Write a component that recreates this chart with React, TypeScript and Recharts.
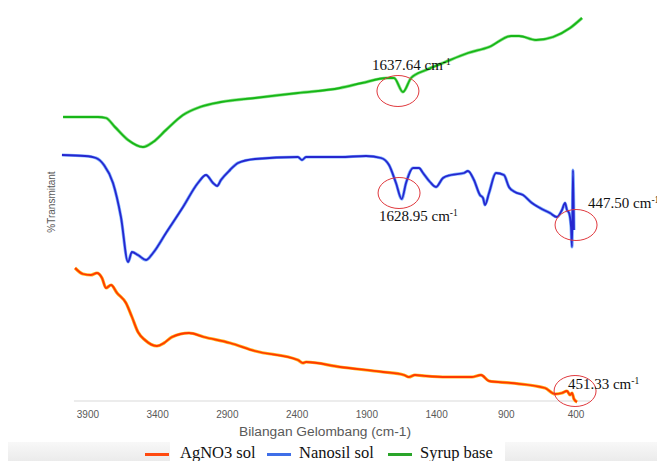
import React from 'react';
import { LineChart, Line, XAxis, YAxis, ReferenceLine, ReferenceDot } from 'recharts';

// Wavenumber (cm-1) and relative %Transmitant (offset, stacked) for each sample
const agno3Wave = [3992, 3935, 3878, 3835, 3799, 3770, 3734, 3691, 3627, 3584, 3541, 3491, 3405, 3354, 3297, 3175, 3068, 2881, 2702, 2394, 2358, 2336, 2092, 1784, 1634, 1598, 1555, 1476, 1325, 1146, 1081, 1024, 866, 623, 551, 501, 465, 443, 429, 415, 393];
const agno3T = [133, 127, 126, 128, 123, 113, 116, 108, 98, 84, 69, 61, 55, 58, 64, 68, 64, 58, 50, 41, 38, 39, 34, 29, 26, 24, 26, 25, 24, 24, 26, 20, 18, 13, 7, 8, 10, 6, 8, 2, -1];

const nanosilWave = [4086, 3921, 3842, 3785, 3720, 3663, 3612, 3584, 3541, 3483, 3433, 3340, 3218, 3111, 3053, 3003, 2974, 2946, 2881, 2824, 2702, 2394, 2365, 2336, 2092, 1906, 1798, 1741, 1691, 1650, 1619, 1569, 1526, 1497, 1447, 1404, 1354, 1297, 1203, 1175, 1132, 1089, 1067, 1053, 1024, 974, 917, 881, 838, 780, 716, 658, 587, 537, 501, 479, 465, 450, 436, 429, 422, 415];
const nanosilT = [246, 245, 243, 236, 218, 184, 139, 149, 146, 141, 148, 168, 194, 218, 226, 218, 215, 221, 231, 238, 242, 244, 241, 244, 244, 245, 243, 236, 218, 202, 218, 233, 233, 228, 219, 214, 223, 226, 228, 230, 221, 206, 203, 196, 208, 228, 226, 214, 209, 206, 198, 193, 188, 184, 191, 198, 191, 188, 174, 154, 231, 171];

const syrupWave = [4078, 3828, 3770, 3706, 3612, 3505, 3433, 3340, 3218, 3096, 2946, 2702, 2394, 2092, 1935, 1755, 1705, 1641, 1583, 1476, 1354, 1175, 1024, 866, 809, 687, 565, 443, 357];
const syrupT = [284, 284, 283, 274, 261, 254, 259, 271, 286, 294, 299, 303, 308, 313, 318, 323, 323, 309, 323, 331, 338, 348, 354, 365, 365, 361, 364, 373, 383];

const xTicks = [3900, 3400, 2900, 2400, 1900, 1400, 900, 400];

// Peak annotations (data coordinates)
const peakNames = ['1637.64', '1628.95', '447.50', '451.33'];
const peakCircleX = [1677, 1669, 400, 407];
const peakCircleY = [310, 208, 176, 10];
const peakTextX = [1863, 1813, 314, 458];
const peakTextY = [331, 180, 193, 12];

const toData = (w: number[], t: number[]) => w.map((x, i) => ({ x, t: t[i] }));
const agno3Data = toData(agno3Wave, agno3T);
const nanosilData = toData(nanosilWave, nanosilT);
const syrupData = toData(syrupWave, syrupT);

const renderTick = (p: any) => (
  <text x={p.x} y={p.y} dy={11.5} textAnchor="middle" fontSize={10}
    fontFamily="'Liberation Sans', Arial, sans-serif" fill="#595959">
    {p.payload.value}
  </text>
);

const renderXLabel = (p: any) => {
  const vb = p.viewBox;
  return (
    <text x={vb.x + vb.width / 2} y={vb.y + 30} textAnchor="middle" fontSize={12}
      fontFamily="'Liberation Sans', Arial, sans-serif" fill="#595959"
      textLength={172} lengthAdjust="spacingAndGlyphs">
      Bilangan Gelombang (cm-1)
    </text>
  );
};

const renderYLabel = (p: any) => {
  const vb = p.viewBox;
  const cx = vb.x + vb.width - 9;
  const cy = vb.y + vb.height / 2 - 6.5;
  return (
    <text x={cx} y={cy} transform={`rotate(-90, ${cx}, ${cy})`} textAnchor="middle"
      dominantBaseline="central" fontSize={10}
      fontFamily="'Liberation Sans', Arial, sans-serif" fill="#595959">
      %Transmitant
    </text>
  );
};

const ellipseShape = (p: any) => (
  <ellipse cx={p.cx} cy={p.cy} rx={21} ry={15.5} fill="none" stroke="#e0393e" strokeWidth={1} />
);

const makeTextShape = (name: string) => (p: any) => (
  <text x={p.cx} y={p.cy} fontSize={15} fontFamily="'Liberation Serif', 'Times New Roman', serif" fill="#111">
    {name + ' cm'}
    <tspan fontSize={9.5} dy={-5.5}>-1</tspan>
  </text>
);

const legendItems = [
  { name: 'AgNO3 sol', color: '#ff4a10', left: 137, textLeft: 172 },
  { name: 'Nanosil sol', color: '#3f6fe8', left: 259, textLeft: 291 },
  { name: 'Syrup base', color: '#2aa52a', left: 380, textLeft: 412 },
];

export default function App() {
  return (
    <div style={{ position: 'relative', width: 657, height: 453 }}>
      <div style={{ position: 'absolute', left: -8, top: 434, width: 665, height: 19,
        background: 'linear-gradient(#f8f8f8, #ebebeb)' }} />
      <div style={{ position: 'absolute', left: 162, top: 434, width: 335, height: 19, background: '#ffffff' }} />
      <div style={{ position: 'absolute', left: 0, top: 0 }}>
        <LineChart width={657} height={453} margin={{ top: 3, right: 75, left: 0, bottom: 0 }}>
          <XAxis dataKey="x" type="number" domain={[300, 4100]} reversed ticks={xTicks} interval={0}
            axisLine={false} tickLine={false} tickSize={0} tickMargin={0} tick={renderTick}
            height={55} label={renderXLabel} allowDataOverflow />
          <YAxis type="number" domain={[-5, 390]} width={52} tick={false} axisLine={false}
            tickLine={false} label={renderYLabel} allowDataOverflow />
          <ReferenceLine segment={[{ x: 4000, y: 0 }, { x: 300, y: 0 }]} stroke="#d9d9d9" strokeWidth={1} ifOverflow="visible" />

          <Line data={syrupData} dataKey="t" type="monotone" stroke="#8ee38e" strokeWidth={3.2} dot={false} isAnimationActive={false} />
          <Line data={syrupData} dataKey="t" type="monotone" stroke="#17b617" strokeWidth={1.8} dot={false} isAnimationActive={false} />
          <Line data={nanosilData} dataKey="t" type="monotone" stroke="#7fb0ff" strokeWidth={3.2} dot={false} isAnimationActive={false} />
          <Line data={nanosilData} dataKey="t" type="monotone" stroke="#2626cf" strokeWidth={1.8} dot={false} isAnimationActive={false} />
          <Line data={agno3Data} dataKey="t" type="monotone" stroke="#ffb41e" strokeWidth={3.2} dot={false} isAnimationActive={false} />
          <Line data={agno3Data} dataKey="t" type="monotone" stroke="#ff3a00" strokeWidth={1.8} dot={false} isAnimationActive={false} />

          {peakNames.map((n, i) => (
            <ReferenceDot key={'c' + i} x={peakCircleX[i]} y={peakCircleY[i]} r={1} shape={ellipseShape} ifOverflow="visible" />
          ))}
          {peakNames.map((n, i) => (
            <ReferenceDot key={'t' + i} x={peakTextX[i]} y={peakTextY[i]} r={1} shape={makeTextShape(n)} ifOverflow="visible" />
          ))}
        </LineChart>
      </div>
      {legendItems.map((it) => (
        <React.Fragment key={it.name}>
          <div style={{ position: 'absolute', left: it.left, top: 445, width: 24, height: 2.5, background: it.color }} />
          <div style={{ position: 'absolute', left: it.textLeft, top: 436, height: 18, lineHeight: '18px',
            fontSize: 16.5, fontFamily: "'Liberation Serif', 'Times New Roman', serif", color: '#111', whiteSpace: 'nowrap' }}>
            {it.name}
          </div>
        </React.Fragment>
      ))}
    </div>
  );
}
